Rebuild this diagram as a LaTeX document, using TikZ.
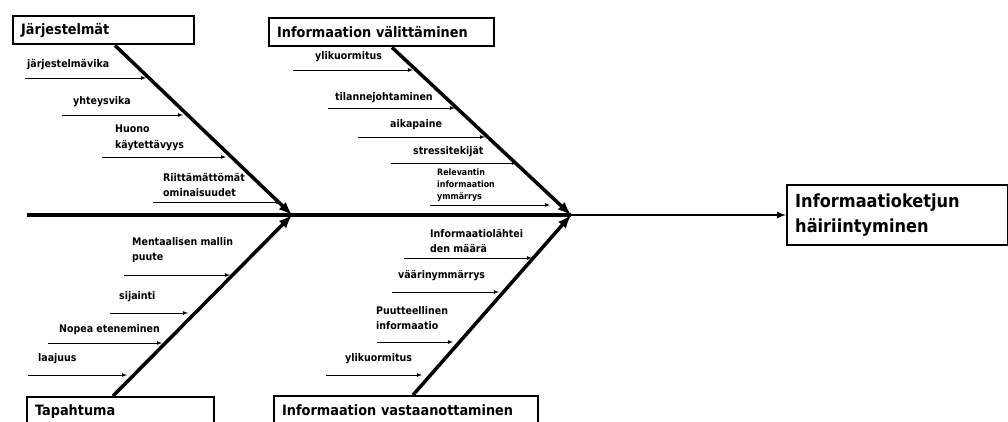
\documentclass[tikz,border=0pt]{standalone}
\usepackage{fontspec}
\setmainfont{DejaVu Sans Condensed}
\usetikzlibrary{arrows}
\usetikzlibrary{positioning}
\tikzstyle{base}=[x=1pt, y=-1pt, font=\bfseries\fontsize{10.5}{15.5}\selectfont]
\tikzstyle{cause}=[draw=black, line width=2.4pt, anchor=north west, minimum height=28pt, inner xsep=8pt, inner ysep=0pt, align=left, font=\bfseries\fontsize{14.3}{17}\selectfont]
\tikzstyle{effect}=[draw=black, line width=2.4pt, anchor=west, minimum height=60pt, inner xsep=8pt, text width=205pt, align=left, font=\bfseries\fontsize{18}{25}\selectfont]
\tikzstyle{bone}=[-latex, line width=3.5pt]
\tikzstyle{twig}=[-latex, line width=0.8pt]
\tikzstyle{lbl}=[anchor=west, inner sep=0pt, align=left]

\begin{document}
\begin{tikzpicture}[base]
    \clip (0,0) rectangle (1008,422);
    \useasboundingbox (0,0) rectangle (1008,422);

    \node [cause, text width=165pt] (sys) at (12,15) {Järjestelmät};
    \node [cause, text width=209pt] (vali) at (268,17) {Informaation välittäminen};
    \node [cause, text width=171pt] (tap) at (26,396) {Tapahtuma};
    \node [cause, text width=248pt] (vast) at (273,395) {Informaation vastaanottaminen};
    \node [effect] (eff) at (786,215) {Informaatioketjun\\häiriintyminen};

    \coordinate (tail) at (27,215);
    \coordinate (j1) at (292,215);
    \coordinate (j2) at (571,215);
    \draw [line width=3.5pt] (tail) -- (j2);
    \draw [-latex, line width=2pt] (j2) -- (eff.west);

    \draw [bone] ([xshift=103pt]sys.south west) -- (j1);
    \draw [bone] ([xshift=87pt]tap.north west) -- (j1);
    \draw [bone] ([xshift=124pt]vali.south west) -- (j2);
    \draw [bone] ([xshift=140pt]vast.north west) -- (j2);

    \node [lbl] (sys1) at (27,65) {järjestelmävika};
    \node [lbl] (sys2) at (73,102) {yhteysvika};
    \node [lbl] (sys3) at (115,138) {Huono\\käytettävyys};
    \node [lbl] (sys4) at (163,185) {Riittämättömät\\ominaisuudet};
    \coordinate (sys1a) at (25,78); \coordinate (sys1b) at (146,78);
    \coordinate (sys2a) at (62,115); \coordinate (sys2b) at (183,115);
    \coordinate (sys3a) at (102,157); \coordinate (sys3b) at (226,157);
    \coordinate (sys4a) at (153,202); \coordinate (sys4b) at (281,202);
    \draw [twig] (sys1a) -- (sys1b);
    \draw [twig] (sys2a) -- (sys2b);
    \draw [twig] (sys3a) -- (sys3b);
    \draw [twig] (sys4a) -- (sys4b);

    \node [lbl] (vali1) at (315,57) {ylikuormitus};
    \node [lbl] (vali2) at (335,98) {tilannejohtaminen};
    \node [lbl] (vali3) at (390,125) {aikapaine};
    \node [lbl] (vali4) at (413,152) {stressitekijät};
    \node [lbl, font=\bfseries\fontsize{8.8}{12}\selectfont] (vali5) at (437,185) {Relevantin\\informaation\\ymmärrys};
    \coordinate (vali1a) at (293,70); \coordinate (vali1b) at (413,70);
    \coordinate (vali2a) at (328,108); \coordinate (vali2b) at (455,108);
    \coordinate (vali3a) at (358,137); \coordinate (vali3b) at (485,137);
    \coordinate (vali4a) at (391,163); \coordinate (vali4b) at (517,163);
    \coordinate (vali5a) at (430,205); \coordinate (vali5b) at (550,205);
    \draw [twig] (vali1a) -- (vali1b);
    \draw [twig] (vali2a) -- (vali2b);
    \draw [twig] (vali3a) -- (vali3b);
    \draw [twig] (vali4a) -- (vali4b);
    \draw [twig] (vali5a) -- (vali5b);

    \node [lbl] (tap1) at (132,250) {Mentaalisen mallin\\puute};
    \node [lbl] (tap2) at (119,297) {sijainti};
    \node [lbl] (tap3) at (59,330) {Nopea eteneminen};
    \node [lbl] (tap4) at (38,359) {laajuus};
    \coordinate (tap1a) at (124,275); \coordinate (tap1b) at (230,275);
    \coordinate (tap2a) at (110,313); \coordinate (tap2b) at (188,313);
    \coordinate (tap3a) at (48,343); \coordinate (tap3b) at (162,343);
    \coordinate (tap4a) at (28,375); \coordinate (tap4b) at (127,375);
    \draw [twig] (tap1a) -- (tap1b);
    \draw [twig] (tap2a) -- (tap2b);
    \draw [twig] (tap3a) -- (tap3b);
    \draw [twig] (tap4a) -- (tap4b);

    \node [lbl] (vast1) at (430,241) {Informaatiolähtei\\den määrä};
    \node [lbl] (vast2) at (398,276) {väärinymmärrys};
    \node [lbl] (vast3) at (376,318) {Puutteellinen\\informaatio};
    \node [lbl] (vast4) at (345,359) {ylikuormitus};
    \coordinate (vast1a) at (404,258); \coordinate (vast1b) at (532,258);
    \coordinate (vast2a) at (392,292); \coordinate (vast2b) at (499,292);
    \coordinate (vast3a) at (377,342); \coordinate (vast3b) at (453,342);
    \coordinate (vast4a) at (326,375); \coordinate (vast4b) at (422,375);
    \draw [twig] (vast1a) -- (vast1b);
    \draw [twig] (vast2a) -- (vast2b);
    \draw [twig] (vast3a) -- (vast3b);
    \draw [twig] (vast4a) -- (vast4b);
\end{tikzpicture}
\end{document}
